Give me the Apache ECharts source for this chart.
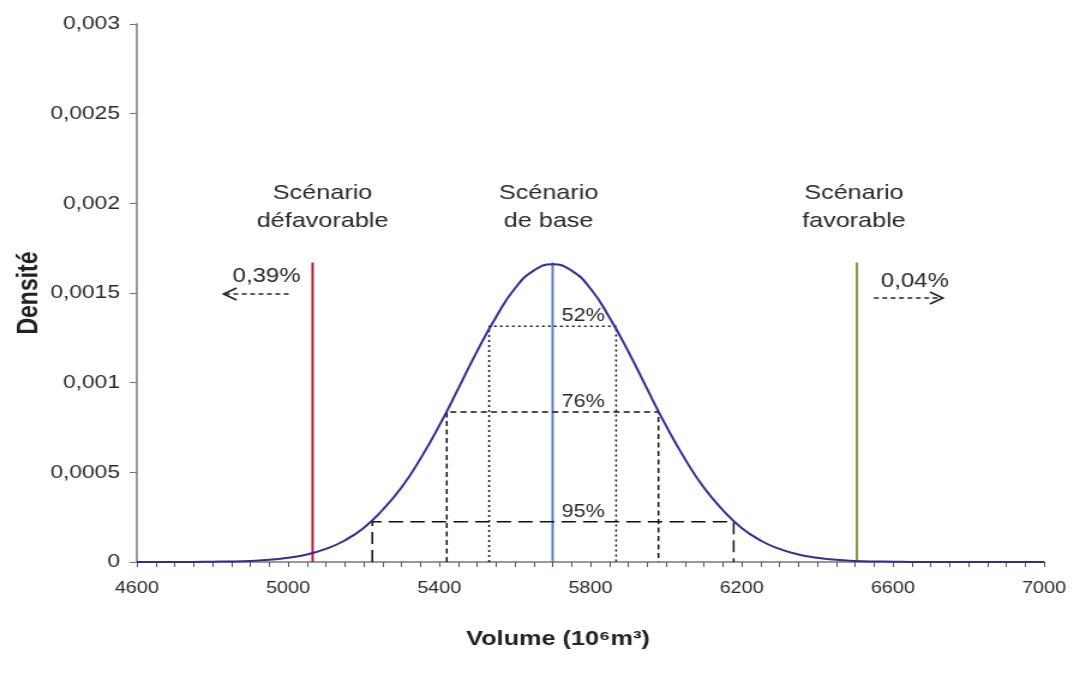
<!DOCTYPE html>
<html>
<head>
<meta charset="utf-8">
<script src="https://cdn.jsdelivr.net/npm/echarts@6/dist/echarts.min.js"></script>
<style>
  html, body { margin: 0; padding: 0; background: #fff; overflow: hidden; }
  /* l'image d'origine est étirée en largeur : on reproduit l'étirement */
  #chart { width: 896px; height: 683px; transform: scaleX(1.2); transform-origin: 0 0; }
</style>
</head>
<body>
<div id="chart"></div>
<script>
// volume (10^6 m3) et densité
var volumes = [4600, 4650, 4700, 4750, 4800, 4850, 4900, 4950, 5000, 5050, 5100, 5150, 5200, 5250,
  5300, 5350, 5400, 5450, 5500, 5550, 5600, 5650, 5700, 5750, 5800, 5850, 5900, 5950, 6000, 6050,
  6100, 6150, 6200, 6250, 6300, 6350, 6400, 6450, 6500, 6550, 6600, 6650, 6700, 6750, 6800, 6850,
  6900, 6950, 7000];
var densites = [0, 0, 0, 0, 0.000002, 0.000003, 0.000006, 0.000012, 0.000024, 0.000042, 0.000073,
  0.00012, 0.00019, 0.00029, 0.000415, 0.000575, 0.00076, 0.000965, 0.001175, 0.001365, 0.001525,
  0.001625, 0.00166, 0.001625, 0.001525, 0.001365, 0.001175, 0.000965, 0.00076, 0.000575, 0.000415,
  0.00029, 0.00019, 0.00012, 0.000073, 0.000042, 0.000024, 0.000012, 0.000006, 0.000003, 0.000002,
  0, 0, 0, 0, 0, 0, 0, 0];

// scénarios : défavorable, base, favorable
var scenarioNoms = ['Scénario\ndéfavorable', 'Scénario\nde base', 'Scénario\nfavorable'];
var scenarioVolumes = [5065, 5700, 6505];
var scenarioHaut = 0.00167;
var queues = ['0,39%', '0,04%'];

// intervalles 52%, 76%, 95%
var intervalNoms = ['52%', '76%', '95%'];
var intervalBas = [5532, 5420, 5223];
var intervalHaut = [5868, 5980, 6179];
var intervalNiveau = [0.001315, 0.000837, 0.000225];

var yTicks = [0, 0.0005, 0.001, 0.0015, 0.002, 0.0025, 0.003];

var S = 1.2; // étirement horizontal
var police = 'Liberation Sans, Arial';
var chart = echarts.init(document.getElementById('chart'));

var scenarioCouleurs = ['#B01E2E', '#5B7DBE', '#7E9A3C'];
var tirets = [[2, 3], [5, 3.5], [12, 6]];

var series = [];

// lignes verticales des scénarios
scenarioVolumes.forEach(function (v, i) {
  series.push({
    type: 'line',
    silent: true,
    symbol: 'none',
    data: [[v, 0], [v, scenarioHaut]],
    lineStyle: { color: scenarioCouleurs[i], width: 2 },
    z: 3
  });
});

// cadres en pointillés des intervalles
intervalNoms.forEach(function (nom, i) {
  var ls = { color: '#111', width: 1.5, type: tirets[i] };
  series.push({
    type: 'line', silent: true, symbol: 'none', lineStyle: ls, z: 4,
    data: [[intervalBas[i], 0], [intervalBas[i], intervalNiveau[i]],
      [intervalHaut[i], intervalNiveau[i]], [intervalHaut[i], 0]],
    markPoint: {
      symbol: 'circle', symbolSize: 0,
      label: {
        show: true, formatter: nom, color: '#2a2a2a', fontSize: 18,
        fontFamily: police, position: 'top', offset: [0, 4]
      },
      data: [{ coord: [5781, intervalNiveau[i]] }]
    }
  });
});

// courbe de densité
series.push({
  type: 'line',
  symbol: 'none',
  smooth: true,
  data: volumes.map(function (v, i) { return [v, densites[i]]; }),
  lineStyle: { color: '#2F2F95', width: 2 },
  z: 5
});

chart.setOption({
  backgroundColor: '#fff',
  animation: false,
  grid: { left: 114, right: 26, top: 24, bottom: 121 },
  xAxis: {
    type: 'value',
    min: 4600, max: 7000, interval: 50,
    name: 'Volume (10⁶m³)',
    nameLocation: 'middle', nameGap: 67, nameMoveOverlap: false,
    nameTextStyle: { fontSize: 21, fontWeight: 'bold', color: '#222', fontFamily: police, padding: [0, 54, 0, 0] },
    axisLine: { lineStyle: { color: '#999', width: 2 } },
    axisTick: { inside: false, length: 5, lineStyle: { color: '#555' } },
    axisLabel: {
      color: '#2a2a2a', fontSize: 16.5, margin: 18, fontFamily: police,
      formatter: function (v) { return (v - 4600) % 400 === 0 ? String(v) : ''; }
    },
    splitLine: { show: false }
  },
  yAxis: {
    type: 'value',
    min: 0, max: 0.003, interval: 0.0005,
    name: 'Densité',
    nameLocation: 'middle', nameGap: 78, nameRotate: 90, nameMoveOverlap: false,
    nameTextStyle: { fontSize: 23, fontWeight: 'bold', color: '#222', fontFamily: police },
    axisLine: { show: true, lineStyle: { color: '#999', width: 2 } },
    axisTick: { show: true, length: 6, lineStyle: { color: '#777' } },
    axisLabel: {
      color: '#2a2a2a', fontSize: 19, margin: 14, fontFamily: police,
      formatter: function (v) {
        var t = yTicks.filter(function (k) { return Math.abs(k - v) < 1e-9; })[0];
        return String(t === undefined ? v : t).replace('.', ',');
      }
    },
    splitLine: { show: false }
  },
  series: series
});

// textes et flèches (positions calculées à partir des axes, décalages en px de l'image)
function px(x, y) { return chart.convertToPixel({ gridIndex: 0 }, [x, y]); }
var graphic = [];
var decal = [10, -4, -3];
scenarioNoms.forEach(function (nom, i) {
  var p = px(scenarioVolumes[i], 0.002);
  graphic.push({
    type: 'text', x: p[0] + decal[i] / S, y: p[1] + 4,
    style: { text: nom, fill: '#2a2a2a', font: '21px ' + police, align: 'center', verticalAlign: 'middle', lineHeight: 28 }
  });
});

function fleche(p, x1, x2, y, sens) {
  var tete = x2 - sens * 13;
  return [
    { type: 'line', shape: { x1: p[0] + x1 / S, y1: p[1] + y, x2: p[0] + x2 / S, y2: p[1] + y },
      style: { stroke: '#222', lineWidth: 1.6, lineDash: [4, 3] } },
    { type: 'polyline', shape: { points: [[p[0] + tete / S, p[1] + y - 6], [p[0] + x2 / S, p[1] + y], [p[0] + tete / S, p[1] + y + 6]] },
      style: { stroke: '#222', lineWidth: 1.6, fill: null } }
  ];
}

var pg = px(scenarioVolumes[0], 0.0016);
var pd = px(scenarioVolumes[2], 0.0016);
graphic.push(
  { type: 'text', x: pg[0] - 46 / S, y: pg[1] + 1,
    style: { text: queues[0], fill: '#2a2a2a', font: '20px ' + police, align: 'center', verticalAlign: 'middle' } },
  { type: 'text', x: pd[0] + 58 / S, y: pd[1] + 6,
    style: { text: queues[1], fill: '#2a2a2a', font: '20px ' + police, align: 'center', verticalAlign: 'middle' } }
);
graphic = graphic.concat(fleche(pg, -24, -89, 19, -1), fleche(pd, 17, 86, 23, 1));
chart.setOption({ graphic: graphic });
</script>
</body>
</html>
